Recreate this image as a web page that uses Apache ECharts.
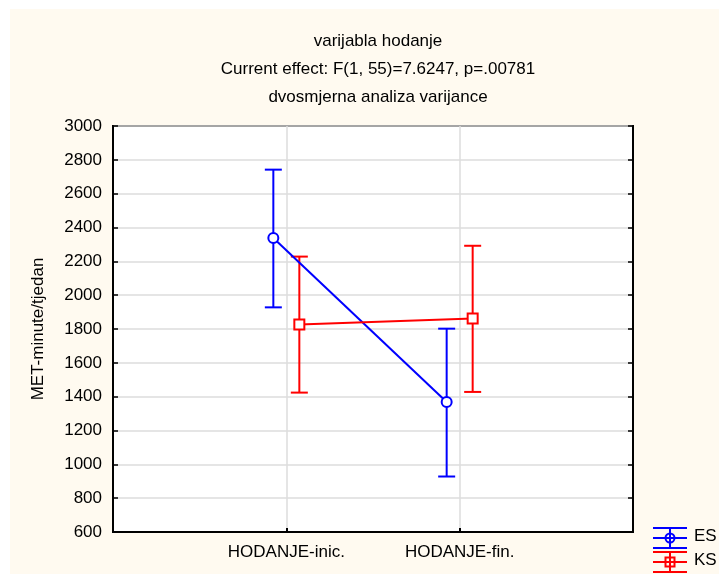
<!DOCTYPE html>
<html>
<head>
  <meta charset="UTF-8">
  <title>varijabla hodanje</title>
  <style>
    html, body { margin: 0; padding: 0; background: #fff; }
    #chart { width: 719px; height: 575px; }
  </style>
</head>
<body>
  <div id="chart"></div>
  <script src="https://cdn.jsdelivr.net/npm/echarts@6/dist/echarts.min.js"></script>
  <script>
    const categories = ['HODANJE-inic.', 'HODANJE-fin.'];
    const groups = ['ES', 'KS'];
    const colors = ['#0000ff', '#ff0000'];
    // means and 95% CI bounds
    const esMean = [2338, 1368];
    const esLow = [1928, 928];
    const esHigh = [2742, 1802];
    const ksMean = [1826, 1862];
    const ksLow = [1424, 1428];
    const ksHigh = [2228, 2292];
    const yTicks = [600, 3000, 200];

    const shift = 0.075; // horizontal offset of the two groups
    const font = 'Liberation Sans, Arial, sans-serif';

    function pts(vals, dx) {
      return vals.map((v, i) => [i + 1 + dx, v]);
    }
    function bars(low, high, dx) {
      return low.map((v, i) => [i + 1 + dx, v, high[i]]);
    }

    function errorBar(color) {
      return function (params, api) {
        const x = api.value(0);
        const lo = api.coord([x, api.value(1)]);
        const hi = api.coord([x, api.value(2)]);
        const w = 8.5;
        const style = { stroke: color, lineWidth: 2 };
        return {
          type: 'group',
          children: [
            { type: 'line', shape: { x1: lo[0], y1: lo[1], x2: hi[0], y2: hi[1] }, style },
            { type: 'line', shape: { x1: hi[0] - w, y1: hi[1], x2: hi[0] + w, y2: hi[1] }, style },
            { type: 'line', shape: { x1: lo[0] - w, y1: lo[1], x2: lo[0] + w, y2: lo[1] }, style }
          ]
        };
      };
    }

    function legendItem(y, color, marker, label) {
      const s = { stroke: color, lineWidth: 2 };
      const cx = 670;
      return [
        { type: 'line', shape: { x1: 653, y1: y - 10, x2: 687, y2: y - 10 }, style: s },
        { type: 'line', shape: { x1: 653, y1: y, x2: 687, y2: y }, style: s },
        { type: 'line', shape: { x1: 653, y1: y + 10, x2: 687, y2: y + 10 }, style: s },
        { type: 'line', shape: { x1: cx, y1: y - 10, x2: cx, y2: y + 10 }, style: s },
        marker === 'circle'
          ? { type: 'circle', shape: { cx: cx, cy: y, r: 4.5 }, style: { fill: 'none', stroke: color, lineWidth: 2 } }
          : { type: 'rect', shape: { x: cx - 4.5, y: y - 4.5, width: 9, height: 9 }, style: { fill: 'none', stroke: color, lineWidth: 2 } },
        { type: 'text', left: 694, top: y - 10, style: { text: label, fill: '#000', font: '17px ' + font } }
      ];
    }

    const chart = echarts.init(document.getElementById('chart'));
    chart.setOption({
      backgroundColor: '#ffffff',
      animation: false,
      textStyle: { fontFamily: font },
      graphic: [
        { type: 'rect', z: -10, shape: { x: 10, y: 9, width: 709, height: 565 }, style: { fill: '#fffaf0' } },
        ...legendItem(538, colors[0], 'circle', groups[0]),
        ...legendItem(562, colors[1], 'rect', groups[1])
      ],
      title: {
        text: 'varijabla hodanje\nCurrent effect: F(1, 55)=7.6247, p=.00781\ndvosmjerna analiza varijance',
        left: 373,
        top: 22,
        textAlign: 'center',
        textStyle: { fontSize: 17, fontWeight: 'normal', color: '#000', lineHeight: 28, fontFamily: font }
      },
      grid: {
        left: 113, top: 126, right: 86, bottom: 43,
        show: true, backgroundColor: '#ffffff', borderColor: '#000', borderWidth: 2
      },
      xAxis: {
        type: 'value', min: 0, max: 3, interval: 1,
        axisLine: { show: true, lineStyle: { color: '#000', width: 2 } },
        axisTick: { show: true, inside: true, length: 4, lineStyle: { color: '#000', width: 2 } },
        axisLabel: {
          color: '#000', fontSize: 17, margin: 12,
          formatter: v => (v >= 1 && v <= 2 ? categories[v - 1] : '')
        },
        splitLine: { show: true, lineStyle: { color: '#dcdcdc', width: 1.5 } }
      },
      yAxis: [{
        type: 'value', min: yTicks[0], max: yTicks[1], interval: yTicks[2],
        name: 'MET-minute/tjedan', nameLocation: 'middle', nameGap: 66,
        nameTextStyle: { color: '#000', fontSize: 17 },
        axisLine: { show: true, lineStyle: { color: '#000', width: 2 } },
        axisTick: { show: true, inside: true, length: 5, lineStyle: { color: '#000', width: 1.5 } },
        axisLabel: { color: '#000', fontSize: 17, margin: 11, formatter: v => String(v) },
        splitLine: { show: true, lineStyle: { color: '#dcdcdc', width: 1.5 } }
      }, {
        type: 'value', min: yTicks[0], max: yTicks[1], interval: yTicks[2], position: 'right',
        axisLine: { show: true, lineStyle: { color: '#000', width: 2 } },
        axisTick: { show: true, inside: true, length: 5, lineStyle: { color: '#000', width: 1.5 } },
        axisLabel: { show: false },
        splitLine: { show: false }
      }],
      series: [
        {
          name: groups[0] + ' CI', type: 'custom', renderItem: errorBar(colors[0]),
          data: bars(esLow, esHigh, -shift), encode: { x: 0, y: [1, 2] }, z: 3
        },
        {
          name: groups[1] + ' CI', type: 'custom', renderItem: errorBar(colors[1]),
          data: bars(ksLow, ksHigh, shift), encode: { x: 0, y: [1, 2] }, z: 3
        },
        {
          name: groups[0], type: 'line', data: pts(esMean, -shift),
          symbol: 'emptyCircle', symbolSize: 10,
          lineStyle: { color: colors[0], width: 2 },
          itemStyle: { color: colors[0], borderWidth: 2 }, z: 4
        },
        {
          name: groups[1], type: 'line', data: pts(ksMean, shift),
          symbol: 'emptyRect', symbolSize: 10,
          lineStyle: { color: colors[1], width: 2 },
          itemStyle: { color: colors[1], borderWidth: 2 }, z: 4
        }
      ]
    });
  </script>
</body>
</html>
